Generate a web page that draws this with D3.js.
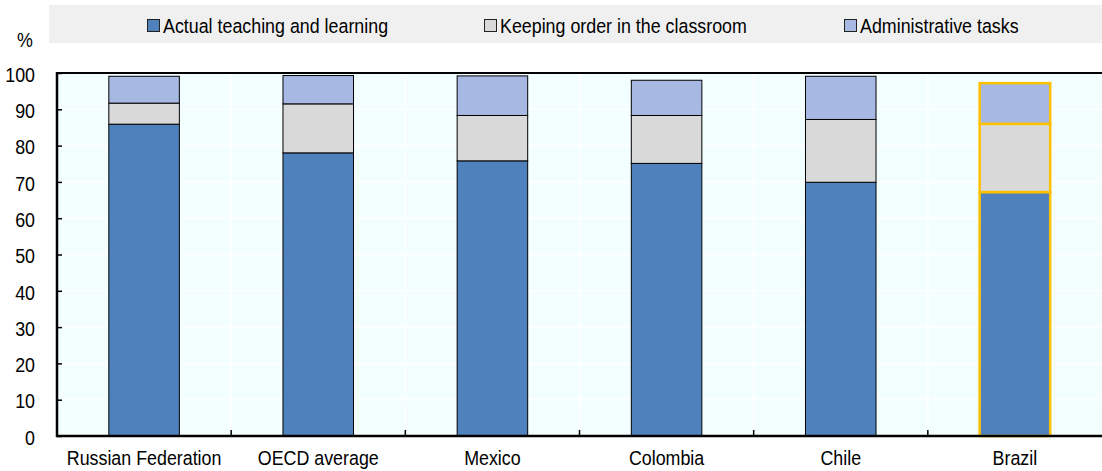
<!DOCTYPE html>
<html>
<head>
<meta charset="utf-8">
<script src="https://cdn.jsdelivr.net/npm/d3@7"></script>
<style>
  html, body { margin: 0; padding: 0; background: #fff; }
  svg { display: block; }
  text { font-family: "Liberation Sans", Arial, sans-serif; fill: #000; }
</style>
</head>
<body>
<script>
// Share of classroom time spent on each activity (%)
const categories = ["Russian Federation", "OECD average", "Mexico", "Colombia", "Chile", "Brazil"];
const teaching = [85.9, 78.0, 75.8, 75.1, 69.9, 67.2];
const keepingOrder = [5.8, 13.5, 12.5, 13.2, 17.3, 18.8];
const administrative = [7.4, 7.8, 10.9, 9.7, 11.9, 11.2];
const seriesNames = ["Actual teaching and learning", "Keeping order in the classroom", "Administrative tasks"];
const seriesColors = ["#4f81bd", "#d9d9d9", "#a7b9e3"];
const yTicks = [0, 10, 20, 30, 40, 50, 60, 70, 80, 90, 100];
const highlighted = "Brazil";

const W = 1102, H = 471;
const margin = { top: 73, right: 0, bottom: 35, left: 57 };
const FS = 20.5;      // label font size
const CONDENSE = 0.87; // horizontal squeeze for a narrow typeface look

// Squeeze text horizontally while keeping its height
function narrow(sel) {
  sel.each(function () {
    const len = this.getComputedTextLength();
    d3.select(this).attr("textLength", len * CONDENSE).attr("lengthAdjust", "spacingAndGlyphs");
  });
}

const svg = d3.select("body").append("svg").attr("width", W).attr("height", H);

const x = d3.scaleBand().domain(categories).range([margin.left, W - margin.right]).paddingInner(0).paddingOuter(0);
const y = d3.scaleLinear().domain([0, 100]).range([H - margin.bottom, margin.top]);

// Legend band
svg.append("rect").attr("x", 49).attr("y", 5).attr("width", W - 49).attr("height", 38).attr("fill", "#f0f0f0");
const legendX = [147, 484, 844];
seriesNames.forEach((name, i) => {
  const g = svg.append("g").attr("transform", `translate(${legendX[i]},0)`);
  g.append("rect").attr("x", 0.5).attr("y", 19.5).attr("width", 12).attr("height", 12)
    .attr("fill", seriesColors[i]).attr("stroke", "#222").attr("stroke-width", 1);
  g.append("text").attr("x", 16).attr("y", 33).attr("font-size", FS).text(name).call(narrow);
});

// Plot background and grid
svg.append("rect").attr("x", margin.left).attr("y", margin.top)
  .attr("width", W - margin.right - margin.left).attr("height", y(0) - y(100)).attr("fill", "#f3fefe");
svg.append("g").selectAll("line").data(yTicks.filter(d => d > 0 && d < 100)).join("line")
  .attr("x1", margin.left).attr("x2", W - margin.right)
  .attr("y1", d => y(d)).attr("y2", d => y(d))
  .attr("stroke", "#fff").attr("stroke-width", 1.5);
svg.append("g").selectAll("line").data(categories.slice(1)).join("line")
  .attr("x1", d => x(d)).attr("x2", d => x(d))
  .attr("y1", y(100)).attr("y2", y(0))
  .attr("stroke", "#fff").attr("stroke-width", 1.5);

// Stacked bars
const rows = categories.map((c, i) => ({ category: c, s0: teaching[i], s1: keepingOrder[i], s2: administrative[i] }));
const stacked = d3.stack().keys(["s0", "s1", "s2"])(rows);
const barW = x.bandwidth() * 0.405;
stacked.forEach((layer, li) => {
  svg.append("g").selectAll("rect").data(layer).join("rect")
    .attr("x", d => x(d.data.category) + (x.bandwidth() - barW) / 2)
    .attr("width", barW)
    .attr("y", d => y(d[1]))
    .attr("height", d => y(d[0]) - y(d[1]))
    .attr("fill", seriesColors[li])
    .attr("stroke", d => d.data.category === highlighted ? "#ffc000" : "#000")
    .attr("stroke-width", d => d.data.category === highlighted ? 2.5 : 1);
});

// Y axis
const yAxis = svg.append("g").attr("transform", `translate(${margin.left},0)`)
  .call(d3.axisRight(y).tickValues(yTicks).tickSize(5).tickFormat(d3.format("d")));
yAxis.select(".domain").remove();
yAxis.selectAll(".tick line").attr("stroke", "#000").attr("stroke-width", 1.5);
yAxis.selectAll(".tick text").attr("x", -22).attr("dy", "0.4em").attr("text-anchor", "end").attr("font-size", FS)
  .attr("font-family", null).attr("fill", "#000").call(narrow);
svg.append("line").attr("x1", margin.left).attr("x2", margin.left).attr("y1", y(100) - 1).attr("y2", y(0) + 1)
  .attr("stroke", "#000").attr("stroke-width", 2.5);
svg.append("line").attr("x1", margin.left).attr("x2", W).attr("y1", y(100)).attr("y2", y(100))
  .attr("stroke", "#000").attr("stroke-width", 2);
svg.append("text").attr("x", 25).attr("y", 47).attr("text-anchor", "middle").attr("font-size", FS).text("%").call(narrow);

// X axis
const xAxis = svg.append("g").attr("transform", `translate(0,${y(0)})`)
  .call(d3.axisBottom(x).tickSize(0).tickPadding(0));
xAxis.select(".domain").remove();
xAxis.selectAll(".tick text").attr("y", 29).attr("dy", null).attr("font-size", FS)
  .attr("font-family", null).attr("fill", "#000").call(narrow);
svg.append("line").attr("x1", margin.left - 1).attr("x2", W).attr("y1", y(0)).attr("y2", y(0))
  .attr("stroke", "#000").attr("stroke-width", 2.5);
svg.append("g").selectAll("line").data(categories.slice(1)).join("line")
  .attr("x1", d => x(d)).attr("x2", d => x(d))
  .attr("y1", y(0)).attr("y2", y(0) - 6)
  .attr("stroke", "#000").attr("stroke-width", 1.5);
</script>
</body>
</html>
